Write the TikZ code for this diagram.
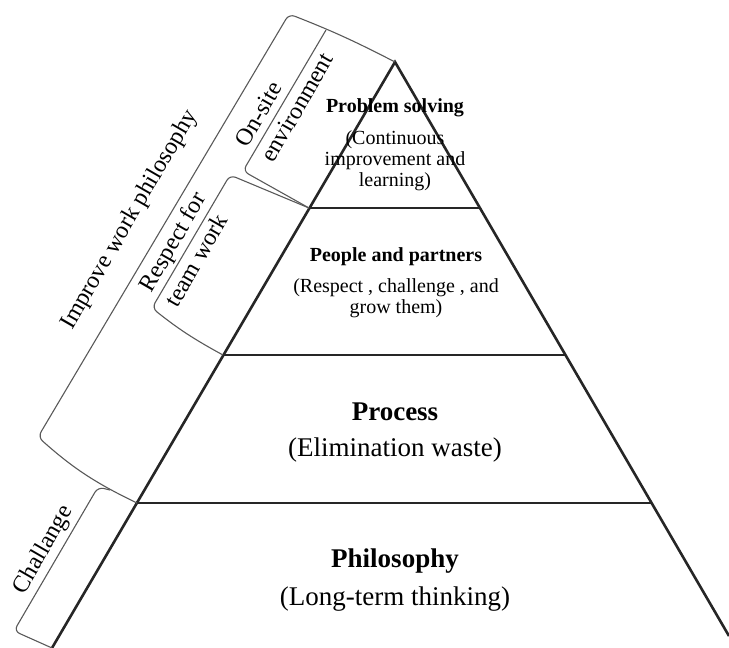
\documentclass[tikz,border=0pt]{standalone}
\usepackage{fontspec}
\setmainfont{Liberation Serif}
\usetikzlibrary{positioning}

\begin{document}
\begin{tikzpicture}[x=1pt,y=-1pt,
    layer/.style={line width=2.6pt,black!85},
    bracket/.style={line width=1.1pt,black!65,rounded corners=6pt},
    title/.style={font=\fontsize{20}{21}\selectfont\bfseries,align=center,inner sep=0pt},
    note/.style={font=\fontsize{20}{21}\selectfont,align=center,inner sep=0pt},
    bigtitle/.style={font=\fontsize{27}{30}\selectfont\bfseries,align=center,inner sep=0pt},
    bignote/.style={font=\fontsize{27}{30}\selectfont,align=center,inner sep=0pt},
    side/.style={font=\fontsize{24}{30}\selectfont,rotate=60,align=left,inner sep=0pt}
]
    \useasboundingbox (0,0) rectangle (729,648);

    % pyramid corners
    \coordinate (apex) at (395,62);
    \coordinate (l1) at (309,208); \coordinate (r1) at (480,208);
    \coordinate (l2) at (223,355); \coordinate (r2) at (566,355);
    \coordinate (l3) at (137,503); \coordinate (r3) at (652,503);
    \coordinate (bl) at (52,648);  \coordinate (br) at (729,636);

    \draw[layer] (bl) -- (apex) -- (br);
    \draw[layer] (l1) -- (r1);
    \draw[layer] (l2) -- (r2);
    \draw[layer] (l3) -- (r3);

    % brackets on the left
    \coordinate (imptop) at (289,14);  \coordinate (impbot) at (38,437);
    \coordinate (ontop) at (326,30);   \coordinate (onbot) at (243,171);
    \coordinate (restop) at (230,175); \coordinate (resbot) at (152,308);
    \coordinate (chtop) at (98,487);   \coordinate (chjoin) at (110,490);
    \coordinate (chbot) at (14,631);

    \draw[bracket] (apex) to[bend right=3] (imptop) -- (impbot) to[bend right=8] (l3);
    \draw[bracket] (ontop) -- (onbot) -- (l1);
    \draw[bracket] (l2) to[bend left=5] (resbot) -- (restop) -- (l1);
    \draw[bracket] (chjoin) -- (chtop) -- (chbot) -- (bl);

    \node[side] (improve) at (130,220) {Improve work philosophy};
    \node[side] (onsite) at (284,100) {On-site\\environment};
    \node[side] (respect) at (185,249) {Respect for\\team work};
    \node[side] (challenge) at (44,550) {Challange};

    % levels
    \node[title] (solving) at (395,108) {Problem solving};
    \node[note,below=13pt of solving] (solvingnote) {(Continuous\\improvement and\\learning)};
    \node[title] (people) at (396,257) {People and partners};
    \node[note,below=12pt of people] (peoplenote) {(Respect , challenge , and\\grow them)};
    \node[bigtitle] (process) at (395,412) {Process};
    \node[bignote,below=16pt of process] (processnote) {(Elimination waste)};
    \node[bigtitle] (philosophy) at (395,561) {Philosophy};
    \node[bignote,below=13pt of philosophy] (philosophynote) {(Long-term thinking)};
\end{tikzpicture}
\end{document}
